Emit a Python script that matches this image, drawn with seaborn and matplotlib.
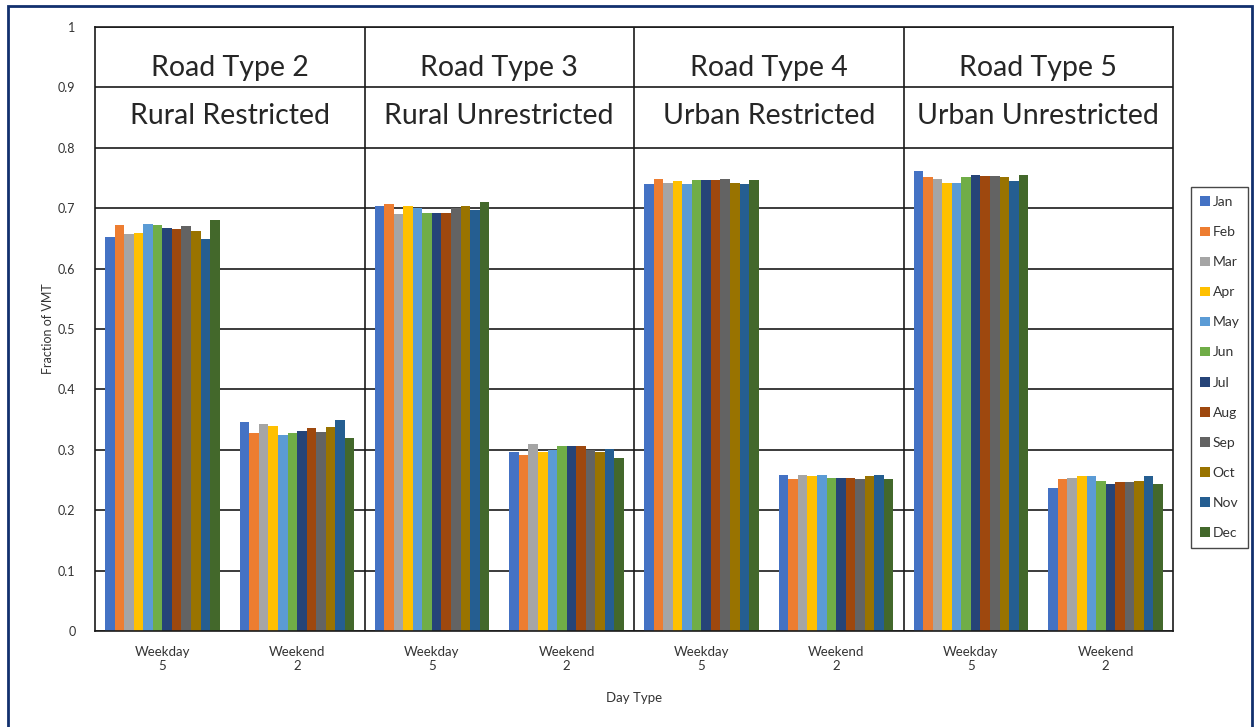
import pandas as pd
import seaborn as sns
import matplotlib.pyplot as plt
from matplotlib.patches import Rectangle

months = ['Jan', 'Feb', 'Mar', 'Apr', 'May', 'Jun', 'Jul', 'Aug', 'Sep', 'Oct', 'Nov', 'Dec']
month_colors = ['#4472C4', '#ED7D31', '#A5A5A5', '#FFC000', '#5B9BD5', '#70AD47',
                '#264478', '#9E480E', '#636363', '#997300', '#255E91', '#43682B']

road_types = ['Road Type 2', 'Road Type 3', 'Road Type 4', 'Road Type 5']
road_names = ['Rural Restricted', 'Rural Unrestricted', 'Urban Restricted', 'Urban Unrestricted']
day_types = ['Weekday\n5', 'Weekend\n2']

# fraction of VMT by month
rt2_weekday = [0.653, 0.672, 0.657, 0.659, 0.674, 0.672, 0.668, 0.666, 0.670, 0.662, 0.649, 0.680]
rt2_weekend = [0.346, 0.327, 0.342, 0.339, 0.324, 0.327, 0.331, 0.336, 0.329, 0.337, 0.350, 0.320]
rt3_weekday = [0.703, 0.707, 0.690, 0.703, 0.701, 0.692, 0.692, 0.692, 0.701, 0.703, 0.697, 0.711]
rt3_weekend = [0.296, 0.292, 0.309, 0.297, 0.299, 0.307, 0.307, 0.307, 0.300, 0.296, 0.302, 0.287]
rt4_weekday = [0.740, 0.748, 0.742, 0.745, 0.740, 0.746, 0.746, 0.746, 0.748, 0.742, 0.740, 0.746]
rt4_weekend = [0.259, 0.252, 0.259, 0.257, 0.259, 0.254, 0.254, 0.254, 0.251, 0.257, 0.259, 0.252]
rt5_weekday = [0.761, 0.751, 0.748, 0.742, 0.742, 0.751, 0.755, 0.753, 0.753, 0.751, 0.745, 0.755]
rt5_weekend = [0.237, 0.251, 0.253, 0.257, 0.257, 0.248, 0.244, 0.246, 0.246, 0.248, 0.257, 0.244]

series = [rt2_weekday, rt2_weekend, rt3_weekday, rt3_weekend,
          rt4_weekday, rt4_weekend, rt5_weekday, rt5_weekend]

# long table: one row per bar
groups = [rt + '|' + dt for rt in road_types for dt in day_types]
rows = []
for g, vals in zip(groups, series):
    for m, v in zip(months, vals):
        rows.append({'group': g, 'month': m, 'value': v})
df = pd.DataFrame(rows)

sns.set_style('white')
plt.rcParams['font.family'] = ['Lato', 'DejaVu Sans']

fig = plt.figure(figsize=(12.57, 7.27), dpi=100)
ax = fig.add_axes([95 / 1257, 96 / 727, 1078 / 1257, 604 / 727])

sns.barplot(data=df, x='group', y='value', hue='month', order=groups, hue_order=months,
            palette=month_colors, saturation=1, width=0.85, ax=ax, errorbar=None,
            edgecolor='none', linewidth=0)

ax.set_ylim(0, 1)
ax.set_xlim(-0.5, len(groups) - 0.5)
ax.set_yticks([i / 10 for i in range(11)])
ax.set_yticklabels(['0'] + ['%.1f' % (i / 10) for i in range(1, 10)] + ['1'])
ax.set_xticks(range(len(groups)))
ax.set_xticklabels([g.split('|')[1] for g in groups])
ax.tick_params(axis='y', length=0, pad=14, labelsize=9, labelcolor='#333333')
ax.tick_params(axis='x', length=0, pad=11, labelsize=9.5, labelcolor='#333333')

ax.yaxis.grid(True, color='#1a1a1a', linewidth=1.2)
ax.set_axisbelow(True)
for s in ax.spines.values():
    s.set_color('#1a1a1a')
    s.set_linewidth(1.2)
for b in [1.5, 3.5, 5.5]:
    ax.axvline(b, color='#1a1a1a', linewidth=1.2)

# header cells above the bars
for i, (rt, name) in enumerate(zip(road_types, road_names)):
    ax.text(2 * i + 0.5, 0.932, rt, ha='center', va='center', fontsize=20.5)
    ax.text(2 * i + 0.5, 0.852, name, ha='center', va='center', fontsize=20.5)

ax.set_xlabel('Day Type', fontsize=9.5, color='#333333', labelpad=14)
ax.set_ylabel('Fraction of VMT', fontsize=9, color='#333333', labelpad=3)

handles, labels = ax.get_legend_handles_labels()
ax.legend_.remove()
leg = fig.legend(handles, labels, loc='center left', bbox_to_anchor=(1191 / 1257, 0.4945),
                 fontsize=10, handlelength=0.7, handleheight=0.7, handletextpad=0.2,
                 labelspacing=1.3, borderpad=0.65, borderaxespad=0, frameon=True, fancybox=False)
leg.get_frame().set_edgecolor('#1a1a1a')
leg.get_frame().set_linewidth(1.0)
for t in leg.get_texts():
    t.set_color('#333333')

# dark outer border of the original picture
fig.patches.append(Rectangle((8 / 1257, -0.05), 1244 / 1257, 1.05 - 6 / 727, transform=fig.transFigure,
                             fill=False, edgecolor='#12306e', linewidth=2))

plt.savefig('out.png', dpi=100)
plt.close()
